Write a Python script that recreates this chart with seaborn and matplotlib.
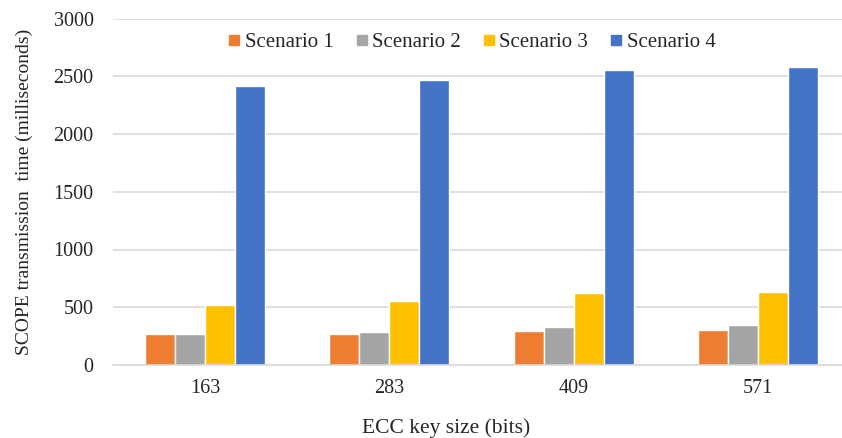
import matplotlib
matplotlib.use("Agg")
import matplotlib.pyplot as plt
import seaborn as sns
import pandas as pd
from matplotlib.lines import Line2D

key_sizes = ["163", "283", "409", "571"]
scenarios = ["Scenario 1", "Scenario 2", "Scenario 3", "Scenario 4"]
scenario1 = [267, 266, 291, 306]
scenario2 = [266, 289, 332, 346]
scenario3 = [517, 557, 623, 634]
scenario4 = [2412, 2465, 2556, 2584]
colors = ["#ED7D31", "#A5A5A5", "#FFC000", "#4472C4"]

rows = []
for s, vals in zip(scenarios, [scenario1, scenario2, scenario3, scenario4]):
    for k, v in zip(key_sizes, vals):
        rows.append({"key": k, "scenario": s, "value": v})
df = pd.DataFrame(rows)

sns.set_style("white")
plt.rcParams["font.family"] = ["Liberation Serif", "DejaVu Serif"]

fig = plt.figure(figsize=(8.42, 4.38), dpi=100)
ax = fig.add_axes([113 / 842, 1 - 365 / 438, 737 / 842, 346.5 / 438])
sns.barplot(data=df, x="key", y="value", hue="scenario", order=key_sizes,
            hue_order=scenarios, palette=colors, width=0.65, saturation=1,
            ax=ax, legend=False)

ax.set_xlim(-0.5, 3.5)
ax.set_ylim(0, 3000)
ax.set_yticks(range(0, 3001, 500))
ax.yaxis.grid(True, color="#D9D9D9", linewidth=1.2)
ax.set_axisbelow(True)
for sp in ["top", "right", "left"]:
    ax.spines[sp].set_visible(False)
ax.spines["bottom"].set_color("#D9D9D9")
ax.spines["bottom"].set_linewidth(1.2)
ax.tick_params(axis="y", length=0, labelsize=14.5, pad=14)
ax.tick_params(axis="x", length=0, labelsize=14.5, pad=10)
ax.set_xlabel("ECC key size (bits)", fontsize=15.5)
ax.set_ylabel("SCOPE transmission  time (milliseconds)", fontsize=14)
ax.xaxis.set_label_coords(0.4525, -0.153)
ax.yaxis.set_label_coords(-0.109, 0.5)

handles = [Line2D([0], [0], marker="s", linestyle="", markersize=7,
                  markerfacecolor=c, markeredgecolor=c) for c in colors]
ax.legend(handles, scenarios, loc="center", bbox_to_anchor=(0.485, (365 - 42) / 346.5),
          ncol=4, frameon=False, fontsize=15, handletextpad=0.05,
          columnspacing=0.9, handlelength=0.9, borderpad=0)

fig.savefig("out.png", dpi=100)
